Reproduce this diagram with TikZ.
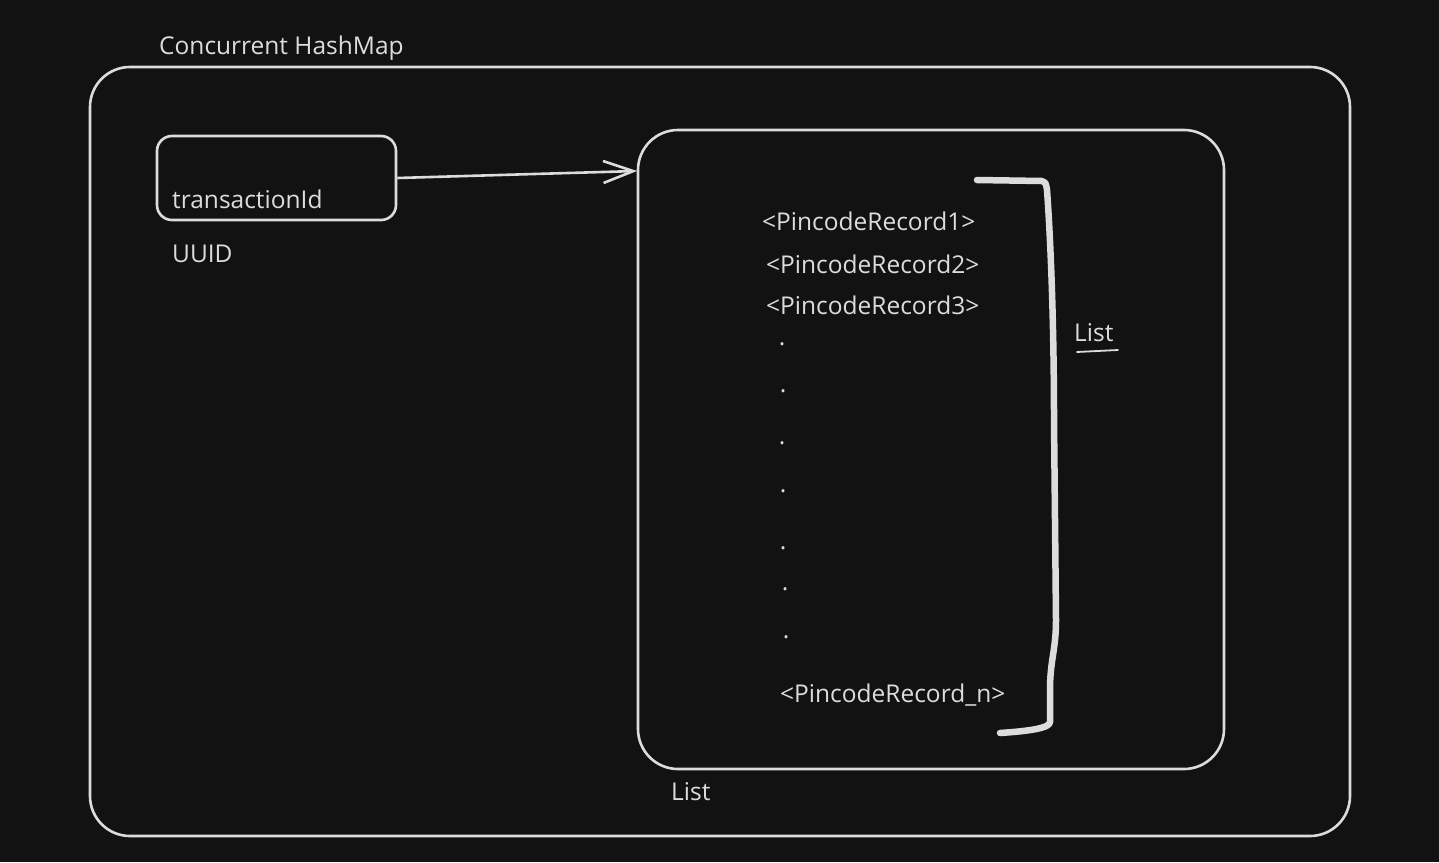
\documentclass[tikz,border=0pt]{standalone}
\usepackage{fontspec}
\setmainfont{Open Sans}
\usetikzlibrary{arrows.meta}
\definecolor{bg}{HTML}{121212}
\definecolor{ink}{HTML}{DCDCDC}
\begin{document}
\begin{tikzpicture}[x=1pt,y=-1pt,
  lbl/.style={text=ink,font=\fontsize{24.5}{29}\selectfont,inner sep=0pt,anchor=west},
  dotlbl/.style={text=ink,font=\fontsize{24.5}{29}\selectfont,inner sep=0pt},
  frame/.style={draw=ink,line width=2.6pt},
]
\fill[bg] (0,0) rectangle (1439,862);
\useasboundingbox (0,0) rectangle (1439,862);
% outer
\draw[frame,rounded corners=40pt] (90,67) rectangle (1350,836);
\node[lbl] (chm) at (159,48) {Concurrent HashMap};
% key box
\node[frame,rounded corners=15pt,minimum width=239pt,minimum height=84pt,inner sep=0pt] (key) at (276.5,178) {};
\node[lbl] (tx) at (172,199) {transactionId};
\node[lbl] (uuid) at (172,254) {UUID};
% inner list box
\node[frame,rounded corners=40pt,minimum width=586pt,minimum height=639pt,inner sep=0pt] (list) at (931,449.5) {};
\coordinate (tip) at (637,171);
\draw[draw=ink,line width=2.6pt,-{Straight Barb[length=30pt,width=22pt,line width=2.6pt]}] (key.east) -- (tip);
% records
\node[lbl] (r1) at (762,221) {<PincodeRecord1>};
\node[lbl] (r2) at (766,264) {<PincodeRecord2>};
\node[lbl] (r3) at (766,305) {<PincodeRecord3>};
\node[dotlbl] (d1) at (782,344) {.};
\node[dotlbl] (d2) at (783,391) {.};
\node[dotlbl] (d3) at (782,443) {.};
\node[dotlbl] (d4) at (783,491) {.};
\node[dotlbl] (d5) at (783,548) {.};
\node[dotlbl] (d6) at (785,589) {.};
\node[dotlbl] (d7) at (786,637) {.};
\node[lbl] (rn) at (780,695) {<PincodeRecord\_n>};
% bracket
\coordinate (b0) at (977,180);
\coordinate (b1) at (1000,733);
\draw[draw=ink,line width=6.5pt,line cap=round,line join=round]
  (b0) -- (1042,181) .. controls (1045,181) and (1046,183) .. (1047,190)
  .. controls (1052,260) and (1054,350) .. (1054,420)
  -- (1056,620) .. controls (1056,650) and (1050,660) .. (1050,690)
  -- (1050,722) .. controls (1050,728) and (1030,731) .. (b1);
% labels List
\node[lbl] (listr) at (1074,333) {List};
\coordinate (u0) at (1077,352);
\coordinate (u1) at (1118,350);
\draw[draw=ink,line width=1.8pt,line cap=round] (u0) -- (u1);
\node[lbl] (listb) at (671,792) {List};
\end{tikzpicture}
\end{document}
